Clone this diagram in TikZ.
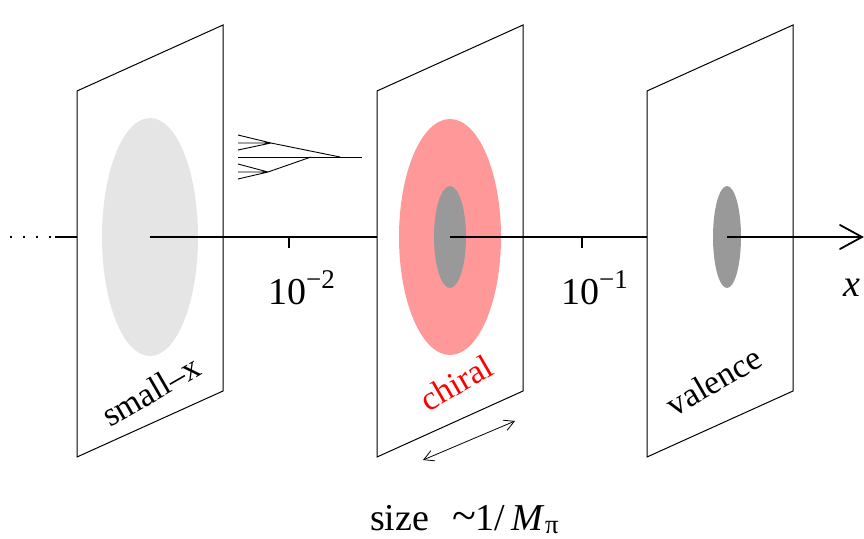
\documentclass[tikz,border=0pt]{standalone}
\usepackage{fontspec}
\setmainfont{Liberation Serif}
\usetikzlibrary{arrows.meta}
\definecolor{lightgr}{HTML}{E5E5E5}
\definecolor{midgr}{HTML}{999999}
\definecolor{pinkred}{HTML}{FF9999}
\newcommand{\supnum}[1]{\raisebox{0.42em}{\fontsize{27}{28}\selectfont #1}}
\begin{document}
\begin{tikzpicture}[x=1pt,y=-1pt,
  panel/.style={draw=black,line width=1pt,fill=white,line join=miter},
  axisline/.style={line width=1.8pt},
  lbl/.style={font=\fontsize{38}{40}\selectfont,inner sep=0pt},
  plbl/.style={font=\fontsize{34}{36}\selectfont,inner sep=0pt,rotate=30},
  branch/.style={line width=0.9pt},
  tick/.style={line width=1.4pt}]
\useasboundingbox (0,0) rectangle (864,538);
% left dotted start
\coordinate (d0) at (10,237);
\coordinate (d1) at (55,237);
\coordinate (p1l) at (77,237);
\draw[line width=1.8pt,dash pattern=on 2pt off 11pt] (d0) -- (d1);
\draw[axisline] (d1) -- (p1l);
% panel 1
\draw[panel] (77,457) -- (77,91) -- (223,25) -- (223,391) -- cycle;
\fill[lightgr] (150,237) ellipse [x radius=48, y radius=119];
\coordinate (c1) at (150,237);
\coordinate (p2l) at (377,237);
\draw[axisline] (c1) -- (p2l);
\node[plbl] (smallx) at (151,391) {small–x};
% branching
\coordinate (b0) at (238,157);
\coordinate (b1) at (362,157);
\coordinate (u0) at (340,157);
\coordinate (u1) at (271,143);
\coordinate (l0) at (311,157);
\coordinate (l1) at (268,172);
\draw[branch] (b0) -- (b1);
\draw[branch] (u0) -- (u1);
\draw[branch] (u1) -- (238,135) (u1) -- (238,143) (u1) -- (238,150);
\draw[branch] (l0) -- (l1);
\draw[branch] (l1) -- (238,164) (l1) -- (238,172) (l1) -- (238,179);
% panel 2
\draw[panel] (377,457) -- (377,91) -- (523,25) -- (523,391) -- cycle;
\fill[pinkred] (450,237) ellipse [x radius=51, y radius=118];
\fill[midgr] (450,237) ellipse [x radius=16, y radius=51];
\coordinate (c2) at (450,237);
\coordinate (p3l) at (647,237);
\draw[axisline] (c2) -- (p3l);
\node[plbl,text=red] (chiral) at (456,383) {chiral};
% panel 3
\draw[panel] (647,457) -- (647,91) -- (793,25) -- (793,391) -- cycle;
\fill[midgr] (727,237) ellipse [x radius=14, y radius=51];
\coordinate (c3) at (727,237);
\coordinate (xend) at (862,237);
\draw[axisline] (c3) -- (xend);
\draw[line width=1.8pt,line cap=round] (840,225) -- (xend) -- (840,249);
\node[plbl] (valence) at (714,381) {valence};
% ticks
\draw[tick] (289,237) -- (289,248);
\draw[tick] (582,237) -- (582,248);
\node[lbl,anchor=base west] (t2) at (268,304) {10\supnum{−2}};
\node[lbl,anchor=base west] (t1) at (561,304) {10\supnum{−1}};
\node[lbl,anchor=base] (xl) at (852,296) {\textit{x}};
% size arrow
\coordinate (s0) at (423,460);
\coordinate (s1) at (515,421);
\draw[line width=0.8pt,{Straight Barb[length=10pt,width=11pt]}-{Straight Barb[length=10pt,width=11pt]}] (s0) -- (s1);
\node[lbl,anchor=base west] (size) at (370,530) {size\hspace{0.6em}{\fontsize{44}{44}\selectfont\textasciitilde}1/\,\textit{M}\textsubscript{π}};
\end{tikzpicture}
\end{document}
